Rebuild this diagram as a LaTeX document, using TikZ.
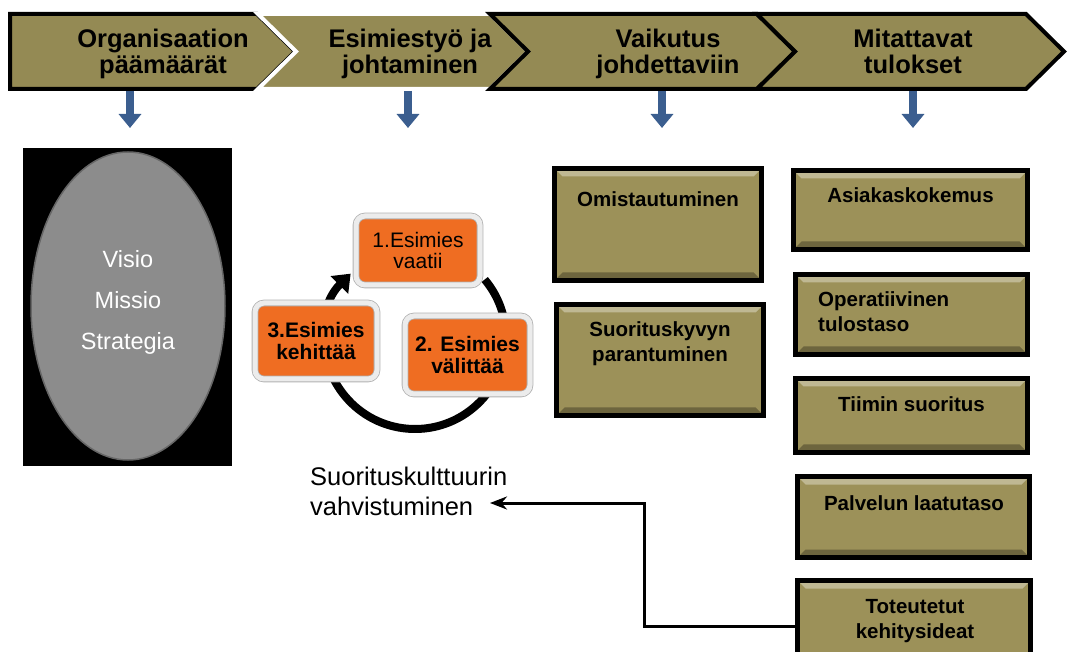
\documentclass[tikz,border=0pt]{standalone}
\usepackage{fontspec}
\setmainfont{Liberation Sans}
\usetikzlibrary{positioning,arrows.meta,calc,shapes.geometric}

\definecolor{chevolive}{HTML}{948A54}
\definecolor{boxolive}{HTML}{9C9159}
\definecolor{cycorange}{HTML}{EF6D22}
\definecolor{downblue}{HTML}{3B5E8F}
\definecolor{ovalgray}{HTML}{8C8C8C}

\begin{document}
\begin{tikzpicture}[
    x=1pt, y=-1pt,
    chev/.style={fill=chevolive, draw=black, line width=4pt, line join=miter},
    chevwhite/.style={fill=chevolive, draw=white, line width=4pt, line join=miter},
    chevtext/.style={font=\fontsize{25.5}{26}\selectfont\bfseries, align=center, anchor=base, inner sep=0pt},
    downarr/.style={draw=downblue, line width=8pt, -{Triangle[width=22pt,length=14pt]}},
    obox/.style={draw=black, fill=boxolive, line width=5pt, inner sep=0pt,
      path picture={
        \fill[boxolive!65!white] (path picture bounding box.north west) -- (path picture bounding box.north east)
          -- ([shift={(-8pt,-8pt)}]path picture bounding box.north east) -- ([shift={(8pt,-8pt)}]path picture bounding box.north west) -- cycle;
        \fill[boxolive!70!black] (path picture bounding box.south west) -- (path picture bounding box.south east)
          -- ([shift={(-8pt,8pt)}]path picture bounding box.south east) -- ([shift={(8pt,8pt)}]path picture bounding box.south west) -- cycle;
      }},
    otext/.style={font=\fontsize{20.5}{25}\selectfont\bfseries, align=center, anchor=base, inner sep=0pt},
    cbox/.style={draw=gray!60, double=gray!15, double distance=5pt, line width=0.8pt,
                 fill=cycorange, rounded corners=9pt, align=center, inner sep=0pt},
    cycarr/.style={draw=black, line width=8pt, -{Triangle[width=24pt,length=16pt]}},
    fbarr/.style={draw=black, line width=3pt, -{Stealth[length=17pt,width=13pt]}}
]
\useasboundingbox (0,0) rectangle (1080,652);

% phase chevrons
\draw[chev] (10,14) -- (257,14) -- (295,51.5) -- (257,89) -- (10,89) -- cycle;
\draw[chevwhite] (258,14) -- (490,14) -- (528,51.5) -- (490,89) -- (258,89) -- (296,51.5) -- cycle;
\draw[chev] (490,14) -- (757,14) -- (795,51.5) -- (757,89) -- (490,89) -- (528,51.5) -- cycle;
\draw[chev] (757,14) -- (1026,14) -- (1064,51.5) -- (1026,89) -- (757,89) -- (795,51.5) -- cycle;
\node[chevtext] (orgT) at (163,74) {Organisaation\\päämäärät};
\node[chevtext] (esimT) at (410,74) {Esimiestyö ja\\johtaminen};
\node[chevtext] (vaikT) at (668,74) {Vaikutus\\johdettaviin};
\node[chevtext] (mitT) at (913,74) {Mitattavat\\tulokset};

% blue down arrows
\foreach \n/\x in {org/130, esim/408, vaik/662, mit/913} {
  \coordinate (\n A) at (\x,91);
  \coordinate (\n B) at (\x,128);
  \draw[downarr] (\n A) -- (\n B);
}

% vision panel
\node[fill=black, minimum width=209pt, minimum height=318pt, inner sep=0pt] (panel) at (127.5,307) {};
\node[ellipse, fill=ovalgray, draw=black!60, line width=1.5pt, minimum width=194pt, minimum height=308pt] (oval) at (128,306) {};
\node[font=\fontsize{23.5}{41}\selectfont, text=white, align=center, anchor=base, inner sep=0pt] (ovalT) at (128,350) {Visio\\Missio\\Strategia};

% leadership cycle
\coordinate (cyc) at (415,338);
\draw[cycarr] ($(cyc)+(40:91pt)$) arc[start angle=40, end angle=-225, radius=91pt];
\node[cbox, font=\fontsize{21}{21.5}\selectfont, minimum width=124pt, minimum height=69pt] (vaatii) at (418,250.5) {1.Esimies\\vaatii};
\node[cbox, font=\fontsize{21}{21.5}\selectfont\bfseries, minimum width=122pt, minimum height=76pt] (kehittaa) at (316,341) {3.Esimies\\kehittää};
\node[cbox, font=\fontsize{21}{21.5}\selectfont\bfseries, minimum width=125pt, minimum height=78pt] (valittaa) at (467.5,355) {2. Esimies\\välittää};
\node[font=\fontsize{25.5}{30}\selectfont, align=left, anchor=base west, inner sep=0pt] (kultT) at (310,515) {Suorituskulttuurin\\vahvistuminen};

% effects on staff
\node[obox, minimum width=207pt, minimum height=112pt] (omist) at (658,224.5) {};
\node[otext] (omistT) at (658,207) {Omistautuminen};
\node[obox, minimum width=207pt, minimum height=111pt] (suor) at (660,360) {};
\node[otext] (suorT) at (660,362) {Suorituskyvyn\\parantuminen};

% measurable results
\node[obox, minimum width=234pt, minimum height=79pt] (asiak) at (910.5,210) {};
\node[otext] (asiakT) at (910.5,203) {Asiakaskokemus};
\node[obox, minimum width=232pt, minimum height=80pt] (oper) at (911.5,314.5) {};
\node[otext, align=left, anchor=base west] (operT) at (818,332) {Operatiivinen\\tulostaso};
\node[obox, minimum width=232pt, minimum height=74pt] (tiimi) at (911.5,415.5) {};
\node[otext] (tiimiT) at (911.5,412) {Tiimin suoritus};
\node[obox, minimum width=232pt, minimum height=81pt] (palv) at (913.5,517) {};
\node[otext] (palvT) at (914,510) {Palvelun laatutaso};
\node[obox, minimum width=233pt, minimum height=91pt] (tot) at (914,626) {};
\node[otext] (totT) at (915,638) {Toteutetut\\kehitysideat};

% feedback to culture
\coordinate (fbend) at (490,503);
\draw[fbarr] (tot.west) -- ++(-151,0) |- (fbend);
\end{tikzpicture}
\end{document}
